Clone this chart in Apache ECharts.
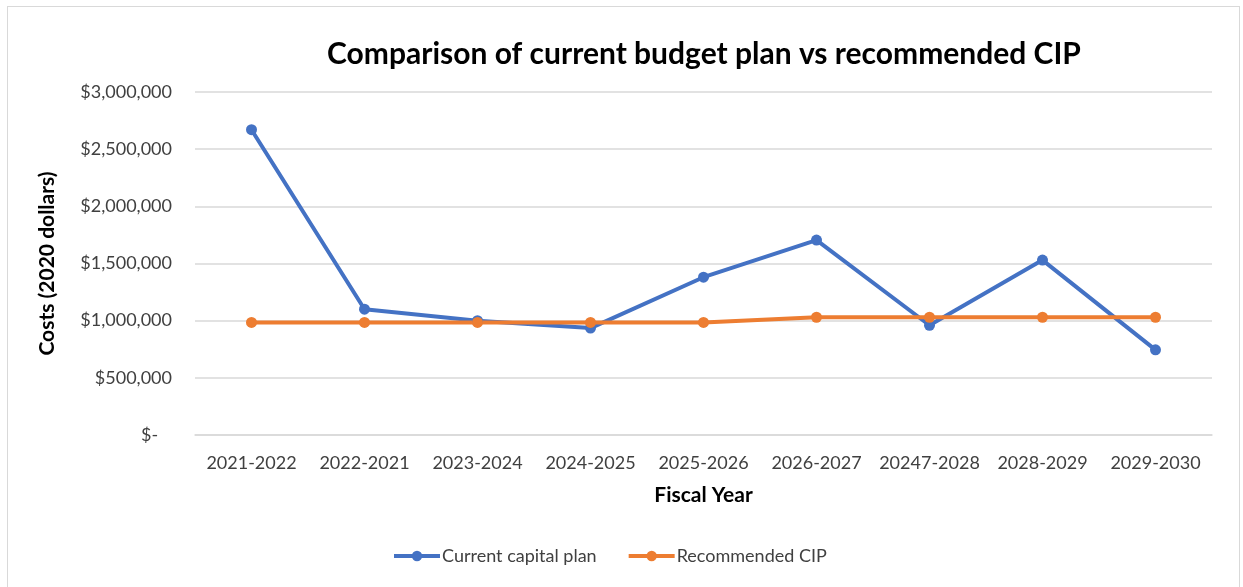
<!DOCTYPE html>
<html>
<head>
<meta charset="utf-8">
<script src="https://cdn.jsdelivr.net/npm/echarts@6/dist/echarts.min.js"></script>
<style>
  html, body { margin: 0; padding: 0; background: #fff; }
  #frame { position: absolute; left: 7px; top: 6px; width: 1233px; height: 600px; border: 1px solid #d9d9d9; box-sizing: border-box; }
  #chart { position: absolute; left: 0; top: 0; width: 1243px; height: 587px; }
</style>
</head>
<body>
<div id="frame"></div>
<div id="chart"></div>
<script>
// Fiscal years and cost series (2020 dollars)
const fiscalYears = ['2021-2022', '2022-2021', '2023-2024', '2024-2025', '2025-2026', '2026-2027', '20247-2028', '2028-2029', '2029-2030'];
const currentCapitalPlan = [2670000, 1100000, 1000000, 935000, 1380000, 1705000, 960000, 1530000, 745000];
const recommendedCIP = [985000, 985000, 985000, 985000, 985000, 1030000, 1030000, 1030000, 1030000];
const yTicks = { min: 0, max: 3000000, interval: 500000 };

const FONT = 'Lato, "Open Sans", sans-serif';

// Accounting-style currency: zero shows as "$-" padded like the other labels
function money(v) {
  if (v === 0) return '$-   ';
  return '$' + v.toLocaleString('en-US');
}

const chart = echarts.init(document.getElementById('chart'), null, { renderer: 'canvas' });
chart.setOption({
  backgroundColor: 'transparent',
  animation: false,
  title: {
    text: 'Comparison of current budget plan vs recommended CIP',
    left: 699, top: 34, textAlign: 'center',
    textStyle: { fontFamily: FONT, fontSize: 30, fontWeight: 'bold', color: '#000' }
  },
  legend: {
    bottom: 22, left: 392, padding: 0,
    itemWidth: 46, itemHeight: 13, itemGap: 30,
    lineStyle: { width: 4 },
    textStyle: { fontFamily: FONT, fontSize: 18, color: '#404040', padding: [0, 0, 0, -3] },
    data: ['Current capital plan', 'Recommended CIP']
  },
  grid: { left: 195, right: 31, top: 92, bottom: 152 },
  xAxis: {
    type: 'category',
    data: fiscalYears,
    name: 'Fiscal Year',
    nameLocation: 'middle', nameGap: 50,
    nameTextStyle: { fontFamily: FONT, fontSize: 21, fontWeight: 'bold', color: '#000' },
    axisLine: { show: true, lineStyle: { color: '#d9d9d9', width: 1.5 } },
    axisTick: { show: false },
    axisLabel: { fontFamily: FONT, fontSize: 18, color: '#404040', margin: 19, interval: 0, hideOverlap: false }
  },
  yAxis: {
    type: 'value',
    min: yTicks.min, max: yTicks.max, interval: yTicks.interval,
    name: 'Costs (2020 dollars)',
    nameLocation: 'middle', nameGap: 137,
    nameTextStyle: { fontFamily: FONT, fontSize: 21, fontWeight: 'bold', color: '#000' },
    axisLine: { show: false },
    axisTick: { show: false },
    splitLine: { lineStyle: { color: '#d9d9d9', width: 1.5 } },
    axisLabel: { fontFamily: FONT, fontSize: 18, color: '#404040', margin: 23, formatter: money }
  },
  series: [
    {
      name: 'Current capital plan', type: 'line', data: currentCapitalPlan,
      color: '#4472C4',
      lineStyle: { width: 4, color: '#4472C4' },
      symbol: 'circle', symbolSize: 11,
      itemStyle: { color: '#4472C4' }
    },
    {
      name: 'Recommended CIP', type: 'line', data: recommendedCIP,
      color: '#ED7D31',
      lineStyle: { width: 4, color: '#ED7D31' },
      symbol: 'circle', symbolSize: 11,
      itemStyle: { color: '#ED7D31' }
    }
  ]
});
</script>
</body>
</html>
